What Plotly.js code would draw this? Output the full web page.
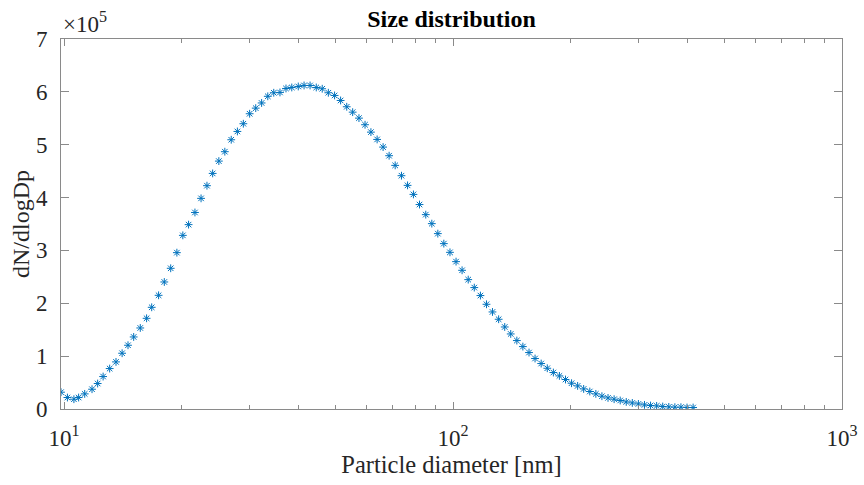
<!DOCTYPE html>
<html>
<head>
<meta charset="utf-8">
<script src="https://cdn.plot.ly/plotly-3.0.1.min.js"></script>
<style>html,body{margin:0;padding:0;background:#fff;}#chart{width:864px;height:485px;}</style>
</head>
<body>
<div id="chart"></div>
<script>
// Particle diameter midpoints [nm]
const diameters = [9.82,10.2,10.6,10.9,11.3,11.8,12.2,12.6,13.1,13.6,14.1,14.6,15.1,15.7,16.3,16.8,17.5,18.1,18.8,19.5,
  20.2,20.9,21.7,22.5,23.3,24.1,25.0,25.9,26.9,27.9,28.9,30.0,31.1,32.2,33.4,34.6,35.9,37.2,38.5,40.0,
  41.4,42.9,44.5,46.1,47.8,49.6,51.4,53.3,55.2,57.3,59.4,61.5,63.8,66.1,68.5,71.0,73.7,76.4,79.1,82.0,
  85.1,88.2,91.4,94.7,98.2,101.8,105.5,109.4,113.4,117.6,121.9,126.3,131.0,135.8,140.7,145.9,151.2,156.8,162.5,168.5,
  174.7,181.1,187.7,194.6,201.7,209.1,216.7,224.7,232.9,241.4,250.3,259.5,269.0,278.8,289.0,299.6,310.6,322.0,333.8,346.0,
  358.7,371.8,385.4,399.5,414.2];
// dN/dlogDp in units of 1e5
const dNdlogDp_e5 = [0.318,0.217,0.185,0.217,0.286,0.374,0.482,0.614,0.765,0.891,1.055,1.206,1.363,1.533,1.716,1.924,2.151,2.403,2.662,2.958,
  3.285,3.488,3.718,3.985,4.225,4.457,4.690,4.868,5.094,5.251,5.397,5.586,5.692,5.790,5.916,5.983,5.989,6.064,6.083,6.102,
  6.121,6.121,6.083,6.059,5.983,5.932,5.837,5.718,5.616,5.503,5.378,5.238,5.100,4.955,4.792,4.609,4.414,4.231,4.060,3.868,
  3.677,3.507,3.318,3.129,2.964,2.788,2.624,2.448,2.297,2.146,1.981,1.836,1.698,1.552,1.420,1.295,1.181,1.068,0.955,0.860,
  0.771,0.690,0.626,0.558,0.488,0.437,0.380,0.331,0.286,0.242,0.210,0.185,0.161,0.134,0.115,0.096,0.078,0.066,0.059,0.047,
  0.040,0.034,0.034,0.028,0.028];
const dNdlogDp = dNdlogDp_e5.map(v => v * 1e5);

const xTickVals = [10, 100, 1000];
const xTickText = ['10<sup>1</sup>', '10<sup>2</sup>', '10<sup>3</sup>'];
const xMinorVals = [20,30,40,50,60,70,80,90,200,300,400,500,600,700,800,900];
const yTickVals = [0, 1e5, 2e5, 3e5, 4e5, 5e5, 6e5, 7e5];
const yTickText = ['0','1','2','3','4','5','6','7'];

const FONT = 'Liberation Serif, Times New Roman, serif';
const TXT = '#262626';
const AX = '#8a8a8a';

const trace = {
  x: diameters, y: dNdlogDp, type: 'scatter', mode: 'markers',
  marker: {symbol: 'asterisk-open', size: 6.5, color: '#0072BD', line: {color: '#0072BD', width: 1}},
  hoverinfo: 'x+y'
};

const layout = {
  width: 864, height: 485,
  margin: {l: 61, r: 22, t: 38.5, b: 76.2},
  paper_bgcolor: '#fff', plot_bgcolor: '#fff',
  showlegend: false,
  font: {family: FONT, color: TXT, size: 23},
  title: {text: '<b>Size distribution</b>', font: {family: FONT, size: 24, color: '#000'},
          x: 0.5, xanchor: 'center', xref: 'paper', yref: 'paper', y: 1, yanchor: 'bottom', pad: {b: 12}},
  xaxis: {
    type: 'log', range: [Math.log10(9.82), 3],
    tickmode: 'array', tickvals: xTickVals, ticktext: xTickText,
    ticks: 'inside', ticklen: 7, tickcolor: AX, tickwidth: 1,
    minor: {tickmode: 'array', tickvals: xMinorVals, ticks: 'inside', ticklen: 4, tickcolor: AX, tickwidth: 1, showgrid: false},
    showline: true, linecolor: AX, linewidth: 1, mirror: 'ticks',
    showgrid: false, zeroline: false,
    tickfont: {family: FONT, size: 23, color: TXT},
    ticklabelstandoff: 8,
    title: {text: 'Particle diameter [nm]', font: {family: FONT, size: 24.5, color: TXT}, standoff: 4}
  },
  yaxis: {
    range: [0, 7e5],
    tickmode: 'array', tickvals: yTickVals, ticktext: yTickText,
    ticks: 'inside', ticklen: 8, tickcolor: AX, tickwidth: 1,
    showline: true, linecolor: AX, linewidth: 1, mirror: 'ticks',
    showgrid: false, zeroline: false,
    tickfont: {family: FONT, size: 23, color: TXT},
    ticklabelstandoff: 8
  },
  annotations: [{
    text: '×10<sup>5</sup>', xref: 'paper', yref: 'paper', x: 0, y: 1, xanchor: 'left', yanchor: 'bottom',
    showarrow: false, font: {family: FONT, size: 23, color: TXT}
  }, {
    text: 'dN/dlogDp', xref: 'paper', yref: 'paper', x: 0, y: 0.5, xanchor: 'right', yanchor: 'middle',
    xshift: -25, textangle: -90, showarrow: false, font: {family: FONT, size: 24, color: TXT}
  }]
};

Plotly.newPlot('chart', [trace], layout, {displayModeBar: false, staticPlot: true});
</script>
</body>
</html>
